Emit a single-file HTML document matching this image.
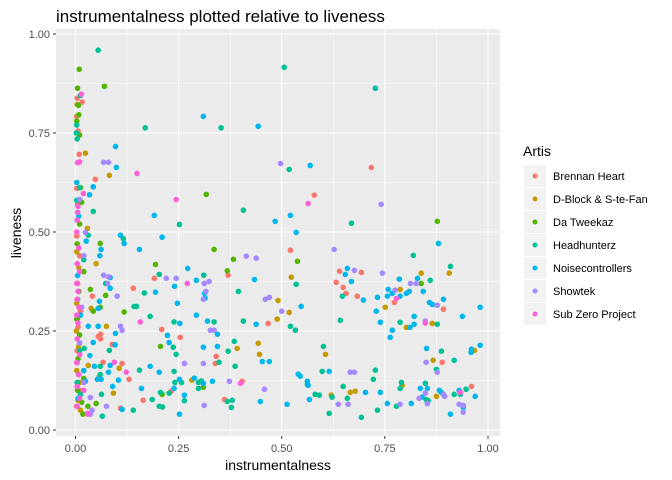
<!DOCTYPE html>
<html><head><meta charset="utf-8"><style>
body{margin:0;background:#fff;font-family:"Liberation Sans",Arial,sans-serif}
svg{display:block}
</style></head><body>
<svg id="chart" width="672" height="480" xmlns="http://www.w3.org/2000/svg">
<rect width="672" height="480" fill="#fff"/>
<text x="56" y="22" font-size="17" fill="#000">instrumentalness plotted relative to liveness</text>
<rect x="56" y="29" width="444" height="407" fill="#EBEBEB"/>
<g id="grid"></g>
<g id="points"></g>
<g id="axes"></g>
<text x="278" y="470" font-size="14" text-anchor="middle" fill="#000">instrumentalness</text>
<text transform="translate(21,233) rotate(-90)" font-size="14" text-anchor="middle" fill="#000">liveness</text>
<g id="legend">
<text x="523" y="156" font-size="14" fill="#000">Artis</text>
</g>
</svg>
<script>
const xTicks=[0,0.25,0.5,0.75,1];
const yTicks=[0,0.25,0.5,0.75,1];
const tickLabels=["0.00","0.25","0.50","0.75","1.00"];
const artists=["Brennan Heart","D-Block & S-te-Fan","Da Tweekaz","Headhunterz","Noisecontrollers","Showtek","Sub Zero Project"];
const colors=["#F8766D","#C49A00","#53B400","#00C094","#00B6EB","#A58AFF","#FB61D7"];
const brennanHeart=[[0.717,0.663],[0.579,0.593],[0.009,0.696],[0.048,0.633],[0.191,0.383],[0.370,0.391],[0.140,0.358],[0.041,0.338],[0.467,0.269],[0.209,0.254],[0.061,0.242],[0.055,0.236],[0.061,0.23],[0.254,0.234],[0.089,0.216],[0.341,0.186],[0.339,0.168],[0.067,0.171],[0.113,0.168],[0.130,0.128],[0.404,0.123],[0.232,0.098],[0.164,0.075],[0.361,0.077],[0.109,0.055],[0.521,0.454],[0.640,0.401],[0.693,0.398],[0.632,0.373],[0.649,0.360],[0.656,0.345],[0.683,0.338],[0.773,0.322],[0.892,0.305],[0.889,0.171],[0.960,0.110],[0.004,0.838],[0.016,0.828],[0.003,0.792],[0.006,0.755],[0.003,0.61],[0.005,0.57],[0.003,0.49],[0.01,0.44],[0.005,0.37],[0.012,0.30],[0.006,0.26],[0.004,0.20],[0.008,0.14],[0.015,0.10],[0.003,0.06]];
const dBlock=[[0.024,0.699],[0.082,0.643],[0.029,0.509],[0.489,0.280],[0.491,0.327],[0.075,0.262],[0.392,0.206],[0.443,0.219],[0.446,0.191],[0.031,0.163],[0.106,0.156],[0.058,0.136],[0.092,0.093],[0.282,0.126],[0.906,0.396],[0.523,0.386],[0.838,0.396],[0.787,0.355],[0.751,0.310],[0.518,0.297],[0.865,0.269],[0.802,0.259],[0.606,0.191],[0.967,0.201],[0.867,0.176],[0.666,0.095],[0.678,0.098],[0.792,0.113],[0.875,0.085],[0.620,0.088],[0.038,0.307],[0.05,0.42],[0.004,0.822],[0.003,0.45],[0.008,0.41],[0.003,0.32],[0.005,0.28],[0.002,0.25],[0.007,0.21],[0.003,0.15],[0.01,0.12],[0.006,0.075],[0.012,0.05]];
const daTweekaz=[[0.009,0.911],[0.070,0.868],[0.317,0.595],[0.060,0.471],[0.336,0.456],[0.383,0.431],[0.194,0.418],[0.368,0.402],[0.073,0.340],[0.036,0.355],[0.118,0.298],[0.206,0.211],[0.310,0.108],[0.21,0.09],[0.050,0.067],[0.877,0.527],[0.538,0.426],[0.838,0.370],[0.043,0.30],[0.06,0.31],[0.005,0.863],[0.007,0.82],[0.008,0.796],[0.003,0.78],[0.01,0.745],[0.012,0.612],[0.015,0.575],[0.01,0.52],[0.004,0.47],[0.02,0.40],[0.008,0.35],[0.003,0.28],[0.01,0.24],[0.006,0.18],[0.02,0.13],[0.005,0.10],[0.015,0.07],[0.018,0.04],[0.03,0.06]];
const headhunterz=[[0.055,0.959],[0.506,0.916],[0.727,0.863],[0.169,0.763],[0.353,0.763],[0.518,0.658],[0.043,0.614],[0.407,0.555],[0.043,0.552],[0.252,0.519],[0.669,0.522],[0.116,0.483],[0.031,0.492],[0.203,0.393],[0.311,0.391],[0.073,0.370],[0.167,0.346],[0.395,0.350],[0.142,0.312],[0.148,0.312],[0.181,0.287],[0.336,0.273],[0.239,0.273],[0.407,0.275],[0.385,0.224],[0.237,0.209],[0.370,0.199],[0.082,0.201],[0.021,0.206],[0.244,0.191],[0.348,0.171],[0.387,0.161],[0.060,0.161],[0.155,0.151],[0.239,0.148],[0.06,0.14],[0.257,0.120],[0.298,0.120],[0.305,0.124],[0.241,0.12],[0.298,0.105],[0.063,0.090],[0.206,0.095],[0.227,0.093],[0.264,0.074],[0.186,0.077],[0.368,0.072],[0.380,0.075],[0.378,0.057],[0.203,0.060],[0.211,0.058],[0.140,0.050],[0.065,0.035],[0.819,0.441],[0.909,0.413],[0.535,0.368],[0.647,0.338],[0.642,0.277],[0.787,0.272],[0.877,0.267],[0.521,0.262],[0.533,0.252],[0.601,0.211],[0.887,0.199],[0.918,0.176],[0.875,0.153],[0.598,0.148],[0.727,0.151],[0.722,0.128],[0.562,0.115],[0.649,0.110],[0.790,0.120],[0.787,0.105],[0.848,0.118],[0.947,0.103],[0.918,0.090],[0.933,0.090],[0.85,0.077],[0.855,0.074],[0.622,0.083],[0.659,0.080],[0.581,0.090],[0.591,0.088],[0.778,0.060],[0.615,0.042],[0.732,0.050],[0.693,0.032],[0.860,0.378],[0.012,0.845],[0.003,0.77],[0.002,0.75],[0.004,0.735],[0.01,0.612],[0.003,0.58],[0.02,0.43],[0.005,0.33],[0.01,0.20],[0.004,0.12],[0.012,0.09]];
const noisecontrollers=[[0.310,0.792],[0.443,0.767],[0.097,0.716],[0.099,0.663],[0.569,0.668],[0.043,0.614],[0.034,0.594],[0.191,0.542],[0.484,0.527],[0.521,0.542],[0.535,0.499],[0.109,0.492],[0.210,0.487],[0.880,0.471],[0.026,0.477],[0.062,0.456],[0.059,0.44],[0.118,0.471],[0.155,0.456],[0.272,0.408],[0.293,0.378],[0.434,0.380],[0.084,0.385],[0.240,0.363],[0.084,0.358],[0.194,0.348],[0.313,0.345],[0.314,0.333],[0.058,0.325],[0.247,0.320],[0.055,0.307],[0.293,0.290],[0.320,0.275],[0.253,0.269],[0.438,0.267],[0.031,0.262],[0.055,0.262],[0.344,0.242],[0.223,0.239],[0.097,0.244],[0.043,0.221],[0.227,0.221],[0.096,0.215],[0.310,0.209],[0.344,0.211],[0.035,0.188],[0.453,0.173],[0.470,0.173],[0.046,0.161],[0.084,0.163],[0.181,0.161],[0.080,0.146],[0.203,0.146],[0.053,0.128],[0.062,0.128],[0.104,0.126],[0.252,0.128],[0.288,0.131],[0.310,0.118],[0.332,0.123],[0.024,0.123],[0.239,0.105],[0.090,0.110],[0.160,0.105],[0.264,0.088],[0.448,0.072],[0.252,0.040],[0.113,0.052],[0.659,0.408],[0.654,0.393],[0.669,0.375],[0.698,0.328],[0.785,0.381],[0.829,0.383],[0.758,0.355],[0.843,0.350],[0.809,0.350],[0.802,0.345],[0.768,0.345],[0.756,0.338],[0.787,0.338],[0.732,0.335],[0.858,0.322],[0.865,0.317],[0.892,0.330],[0.981,0.310],[0.729,0.300],[0.938,0.287],[0.547,0.312],[0.739,0.272],[0.821,0.287],[0.821,0.267],[0.811,0.259],[0.768,0.252],[0.763,0.234],[0.851,0.206],[0.960,0.204],[0.959,0.196],[0.981,0.214],[0.540,0.141],[0.545,0.136],[0.615,0.148],[0.562,0.123],[0.564,0.113],[0.703,0.095],[0.739,0.095],[0.836,0.105],[0.853,0.105],[0.882,0.100],[0.887,0.095],[0.930,0.100],[0.969,0.085],[0.84,0.083],[0.567,0.077],[0.513,0.065],[0.756,0.067],[0.814,0.067],[0.909,0.040],[0.94,0.057],[0.003,0.625],[0.008,0.54],[0.005,0.39],[0.012,0.29],[0.004,0.17],[0.02,0.15],[0.006,0.08]];
const showtek=[[0.068,0.676],[0.080,0.676],[0.010,0.582],[0.024,0.499],[0.497,0.673],[0.741,0.570],[0.414,0.439],[0.438,0.434],[0.220,0.383],[0.244,0.383],[0.312,0.370],[0.324,0.375],[0.068,0.391],[0.080,0.387],[0.078,0.370],[0.316,0.350],[0.310,0.33],[0.101,0.338],[0.46,0.33],[0.47,0.335],[0.109,0.262],[0.113,0.252],[0.327,0.252],[0.336,0.252],[0.264,0.168],[0.310,0.168],[0.373,0.123],[0.458,0.103],[0.312,0.062],[0.075,0.060],[0.036,0.082],[0.036,0.04],[0.04,0.05],[0.627,0.456],[0.676,0.403],[0.744,0.396],[0.812,0.370],[0.826,0.370],[0.775,0.353],[0.877,0.315],[0.500,0.300],[0.848,0.275],[0.850,0.171],[0.877,0.146],[0.666,0.146],[0.676,0.146],[0.892,0.090],[0.895,0.085],[0.833,0.080],[0.848,0.093],[0.853,0.067],[0.637,0.065],[0.661,0.065],[0.787,0.065],[0.93,0.065],[0.94,0.062],[0.94,0.045],[0.02,0.44],[0.015,0.31],[0.01,0.22],[0.02,0.12]];
const subZeroProject=[[0.149,0.648],[0.019,0.597],[0.244,0.582],[0.564,0.572],[0.271,0.370],[0.157,0.273],[0.094,0.171],[0.123,0.146],[0.40,0.118],[0.029,0.042],[0.778,0.332],[0.848,0.270],[0.933,0.095],[0.014,0.848],[0.005,0.675],[0.01,0.677],[0.006,0.565],[0.005,0.55],[0.004,0.53],[0.003,0.50],[0.008,0.46],[0.004,0.42],[0.01,0.40],[0.003,0.37],[0.006,0.35],[0.004,0.33],[0.008,0.31],[0.003,0.29],[0.006,0.27],[0.004,0.23],[0.01,0.19],[0.003,0.17],[0.007,0.14],[0.004,0.11],[0.02,0.10],[0.01,0.08],[0.004,0.06],[0.03,0.04]];

const NS="http://www.w3.org/2000/svg";
function xs(v){return 75.5+412.5*v;}
function ys(v){return 430-396*v;}
function mk(tag,attrs,parent){const e=document.createElementNS(NS,tag);for(const k in attrs)e.setAttribute(k,attrs[k]);parent.appendChild(e);return e;}
const grid=document.getElementById('grid');
for(let i=0;i<xTicks.length-1;i++){
  const mx=(xTicks[i]+xTicks[i+1])/2;
  const l=mk('line',{x1:xs(mx),x2:xs(mx),y1:29,y2:436,stroke:'#fff','stroke-width':0.55},grid);
  
  
  const my=(yTicks[i]+yTicks[i+1])/2;
  const l2=mk('line',{x1:56,x2:500,y1:ys(my),y2:ys(my),stroke:'#fff','stroke-width':0.55},grid);
  
  
}
const axes=document.getElementById('axes');
xTicks.forEach((t,i)=>{
  const l=mk('line',{x1:xs(t),x2:xs(t),y1:29,y2:436,stroke:'#fff','stroke-width':1.1},grid);
  
  
  const tk=mk('line',{x1:xs(t),x2:xs(t),y1:436,y2:439,stroke:'#333','stroke-width':1},axes);
  
  
  const tx=mk('text',{x:xs(t),y:452,'font-size':11,'text-anchor':'middle',fill:'#4D4D4D'},axes);
  tx.textContent=tickLabels[i];
  
  
});
yTicks.forEach((t,i)=>{
  const l=mk('line',{x1:56,x2:500,y1:ys(t),y2:ys(t),stroke:'#fff','stroke-width':1.1},grid);
  
  
  const tk=mk('line',{x1:53,x2:56,y1:ys(t),y2:ys(t),stroke:'#333','stroke-width':1},axes);
  
  
  const tx=mk('text',{x:50,y:ys(t)+4,'font-size':11,'text-anchor':'end',fill:'#4D4D4D'},axes);
  tx.textContent=tickLabels[i];
  
  
});
const series=[brennanHeart,dBlock,daTweekaz,headhunterz,noisecontrollers,showtek,subZeroProject];
const pts=document.getElementById('points');
series.forEach((s,si)=>{
  s.forEach(p=>{
    const c=mk('circle',{cx:xs(p[0]),cy:ys(p[1]),r:2.8,fill:colors[si]},pts);
    
    
  });
});
const leg=document.getElementById('legend');
artists.forEach((a,i)=>{
  const y0=165+23*i;
  const r=mk('rect',{x:524,y:y0,width:22,height:22,fill:'#F2F2F2'},leg);
  
  
  const c=mk('circle',{cx:535,cy:y0+11,r:2.5,fill:colors[i]},leg);
  
  
  const t=mk('text',{x:553,y:y0+15,'font-size':11,fill:'#000'},leg);
  t.textContent=a;
  
  
});
</script>
</body></html>
